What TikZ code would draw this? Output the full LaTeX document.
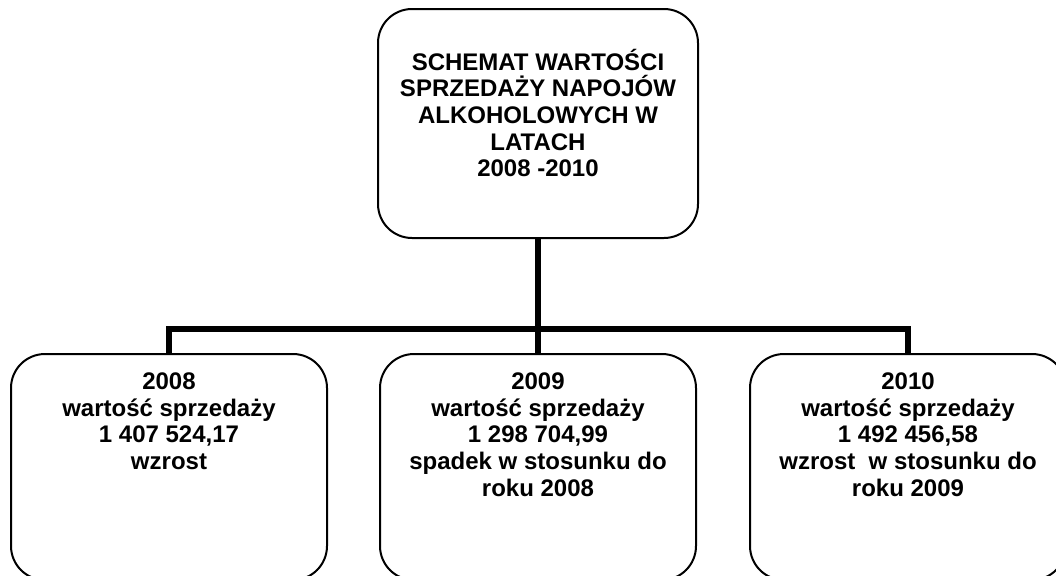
\documentclass[tikz,border=0pt]{standalone}
\usepackage{fontspec}
\setmainfont{Liberation Sans}
\usetikzlibrary{positioning}

\tikzset{
  box/.style={draw, line width=1.5pt, rounded corners=25.5pt, minimum width=237pt, minimum height=169.5pt, inner sep=0pt},
  txt/.style={align=center, inner sep=0pt, font=\fontsize{18}{20}\selectfont\bfseries},
  conn/.style={line width=4.5pt, line join=miter},
}

\begin{document}
\begin{tikzpicture}[x=0.75pt, y=-0.75pt]
\useasboundingbox (0,0) rectangle (1056,575);
\clip (0,0) rectangle (1056,575);

\node[box, minimum width=240pt, minimum height=171.75pt] (top) at (538,123.5) {};
\node[txt, below=30.4pt of top.north] (ttop) {SCHEMAT WARTOŚCI\\SPRZEDAŻY NAPOJÓW\\ALKOHOLOWYCH W\\LATACH\\2008 -2010};

\node[box] (b2008) at (169,467) {};
\node[box] (b2009) at (538,467) {};
\node[box] (b2010) at (908,467) {};

\node[txt, below=14.6pt of b2008.north] (t2008) {2008\\wartość sprzedaży\\1 407 524,17\\wzrost};
\node[txt, below=14.6pt of b2009.north] (t2009) {2009\\wartość sprzedaży\\1 298 704,99\\spadek w stosunku do\\roku 2008};
\node[txt, below=14.6pt of b2010.north] (t2010) {2010\\wartość sprzedaży\\1 492 456,58\\wzrost~ w stosunku do\\roku 2009};

\coordinate (hub) at (538,329);
\draw[conn] (top) -- (hub);
\draw[conn] (b2008) |- (hub) -| (b2010);
\draw[conn] (hub) -- (b2009);

\end{tikzpicture}
\end{document}
